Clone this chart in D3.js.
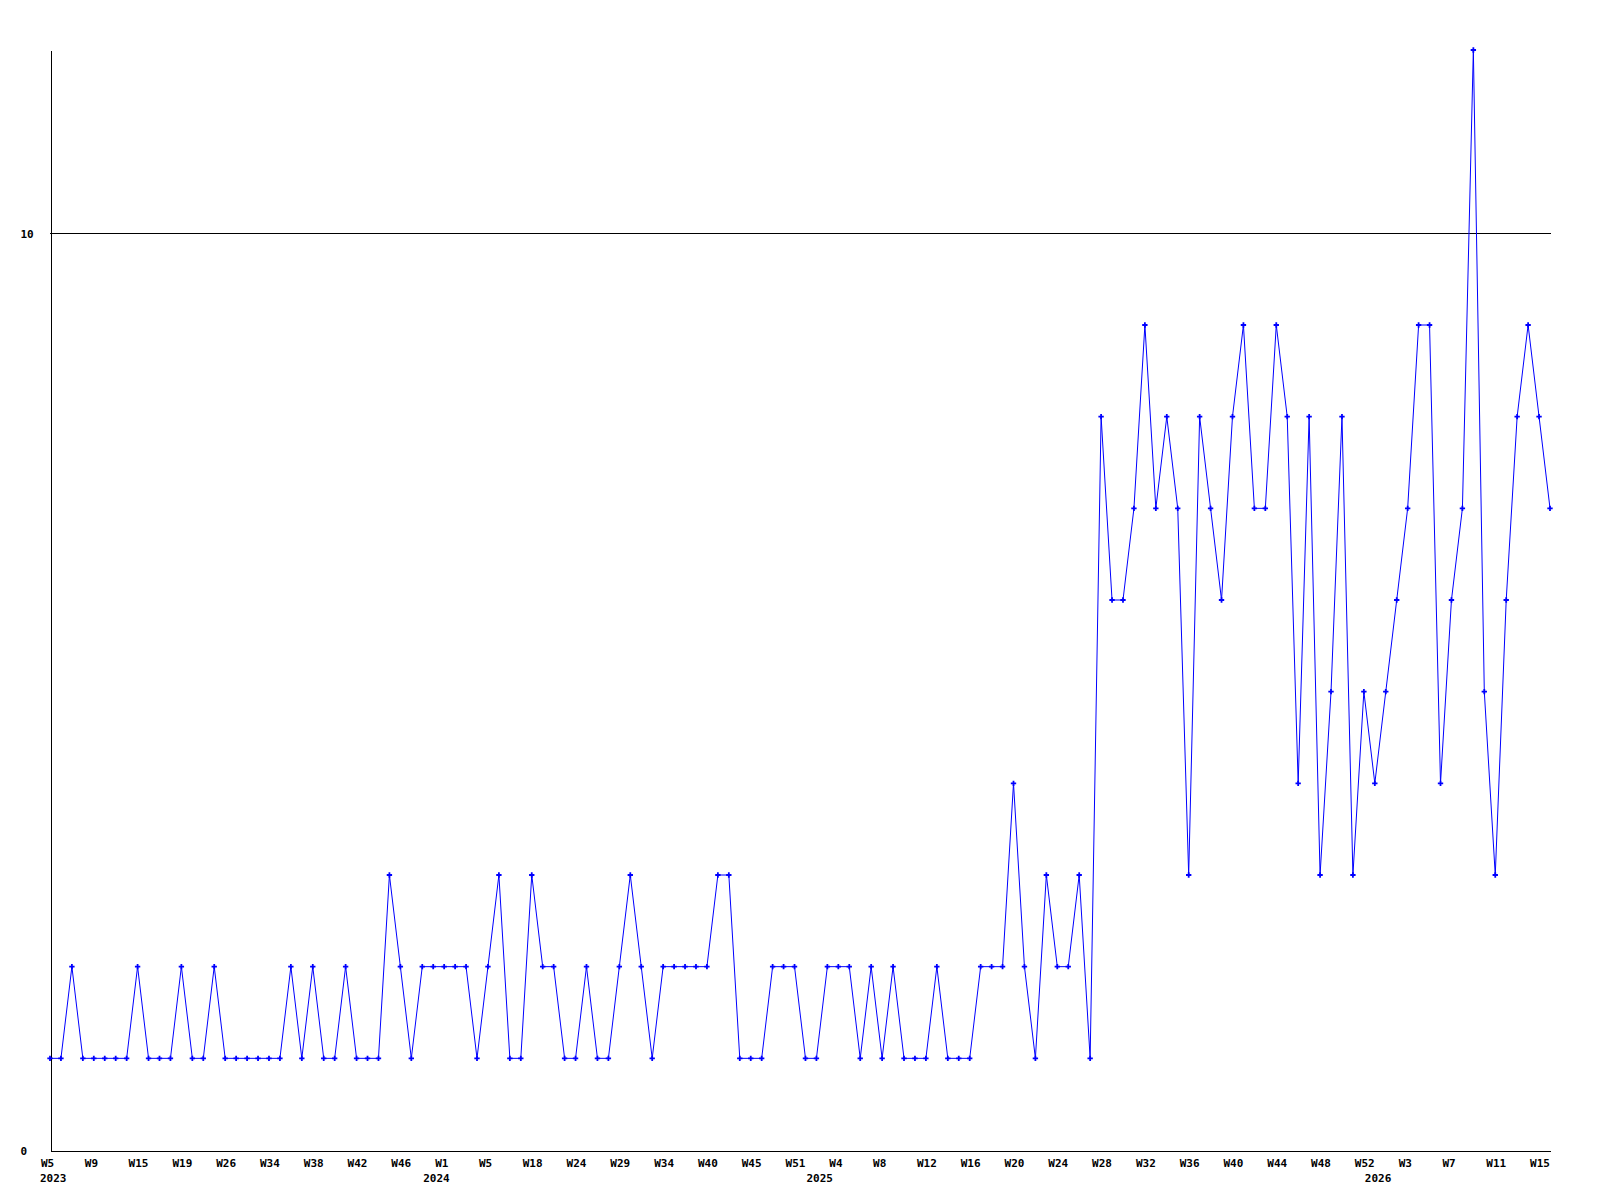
<!DOCTYPE html>
<html><head><meta charset="utf-8">
<script src="https://cdn.jsdelivr.net/npm/d3@7"></script>
<style>
html,body{margin:0;padding:0;background:#fff}
svg text{font-family:"DejaVu Sans Mono","Liberation Mono",monospace;font-weight:bold;font-size:11px;fill:#000}
</style>
</head><body>
<svg id="chart" width="1600" height="1200"></svg>
<script>
// weekly values, one per point, in order
const values = [
  1,1,2,1,1,1,1,1,2,1,1,1,2,1,1,2,1,1,1,1,1,1,2,1,
  2,1,1,2,1,1,1,3,2,1,2,2,2,2,2,1,2,3,1,1,3,2,2,1,
  1,2,1,1,2,3,2,1,2,2,2,2,2,3,3,1,1,1,2,2,2,1,1,2,2,
  2,1,2,1,2,1,1,1,2,1,1,1,2,2,2,4,2,1,3,2,2,3,1,
  8,6,6,7,9,7,8,7,3,8,7,6,8,9,7,7,9,8,4,8,3,5,8,
  3,5,4,5,6,7,9,9,4,6,7,12,5,3,6,8,9,8,7
];
// week labels shown on every 4th point
const tickLabels = ["W5","W9","W15","W19","W26","W34","W38","W42","W46","W1","W5","W18","W24","W29","W34","W40","W45","W51","W4","W8","W12","W16","W20","W24","W28","W32","W36","W40","W44","W48","W52","W3","W7","W11","W15"];
const tickStep = 4;
// year labels and the index of the point where each year starts
const yearLabels = ["2023","2024","2025","2026"];
const yearStartIndex = [0,35,70,121];
const yTickValues = [0,10];
const yMax = 12;

(function () {
const svg = d3.select("#chart");
const mLeft = 50, mRight = 1550, mTop = 50, mBottom = 1150;

const x = d3.scaleLinear().domain([0, values.length - 1]).range([mLeft, mRight]);
const y = d3.scaleLinear().domain([0, yMax]).range([mBottom, mTop]);

// gridline at 10
svg.append("g")
  .selectAll("line").data(yTickValues.filter(v => v > 0)).join("line")
  .attr("x1", mLeft).attr("x2", mRight + 1)
  .attr("y1", d => Math.round(y(d)) + 0.5).attr("y2", d => Math.round(y(d)) + 0.5)
  .attr("stroke", "#000").attr("stroke-width", 1).attr("shape-rendering", "crispEdges");

// x axis
const xAxis = d3.axisBottom(x)
  .tickValues(d3.range(0, values.length, tickStep))
  .tickFormat(i => tickLabels[i / tickStep])
  .tickSize(0).tickPadding(9);
const gx = svg.append("g").attr("transform", `translate(0.5,${mBottom + 0.5})`).call(xAxis);
gx.select(".domain").attr("stroke", "#000").attr("shape-rendering", "crispEdges");
gx.selectAll("text").attr("text-anchor", "start").attr("dx", -10)
  .style("font-family", "DejaVu Sans Mono").style("font-weight", "bold").style("font-size", "11px");

// year labels
svg.append("g").selectAll("text").data(yearLabels).join("text")
  .attr("x", (d, i) => x(yearStartIndex[i]) - 10)
  .attr("y", mBottom + 32)
  .text(d => d);

// y axis
const yAxis = d3.axisLeft(y).tickValues(yTickValues).tickFormat(d3.format("d")).tickSize(0).tickPadding(0);
const gy = svg.append("g").attr("transform", `translate(${mLeft + 0.5},0.5)`).call(yAxis);
gy.select(".domain").attr("stroke", "#000").attr("shape-rendering", "crispEdges");
gy.selectAll("text").attr("text-anchor", "start").attr("x", 20 - mLeft)
  .style("font-family", "DejaVu Sans Mono").style("font-weight", "bold").style("font-size", "11px");

// line
const line = d3.line().x((d, i) => x(i)).y(d => y(d));
svg.append("path").datum(values)
  .attr("d", line).attr("fill", "none").attr("stroke", "#0000ff").attr("stroke-width", 1);

// markers
const sym = d3.symbol().type(d3.symbolCross).size(16);
svg.append("g").selectAll("path").data(values).join("path")
  .attr("transform", (d, i) => `translate(${x(i)},${y(d)})`)
  .attr("d", sym).attr("fill", "#0000ff");
})();
</script>
</body></html>
